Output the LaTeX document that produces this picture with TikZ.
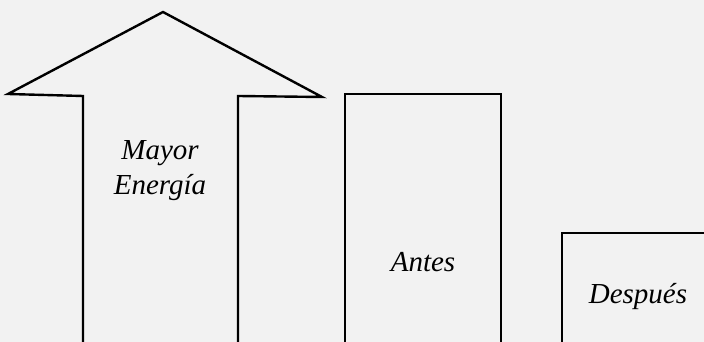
\documentclass[tikz,border=0pt]{standalone}
\usepackage{fontspec}
\setmainfont{Liberation Serif}
\usepackage{tikz}
\definecolor{paper}{HTML}{F2F2F2}

\begin{document}
\begin{tikzpicture}[x=1pt,y=1pt]
	\fill[paper] (0,0) rectangle (704,342);
	\useasboundingbox (0,0) rectangle (704,342);
	\clip (0,0) rectangle (704,342);
	% big arrow
	\draw [line width=2.4pt, line join=miter] (83,-5) -- (83,246) -- (8,248) -- (163,330) -- (322,245) -- (238,246) -- (238,-5);
	% before and after
	\draw [line width=2.4pt] (345,-5) -- (345,248) -- (501,248) -- (501,-5);
	\draw [line width=2.4pt] (562,-5) -- (562,109) -- (710,109);
	\node[font=\fontsize{29}{35}\selectfont\itshape, align=center] (energia) at (160,171) {Mayor\\Energía};
	\node[font=\fontsize{29}{35}\selectfont\itshape] (antes) at (423,80) {Antes};
	\node[font=\fontsize{29}{35}\selectfont\itshape] (despues) at (638,45) {Después};
\end{tikzpicture}
\end{document}
